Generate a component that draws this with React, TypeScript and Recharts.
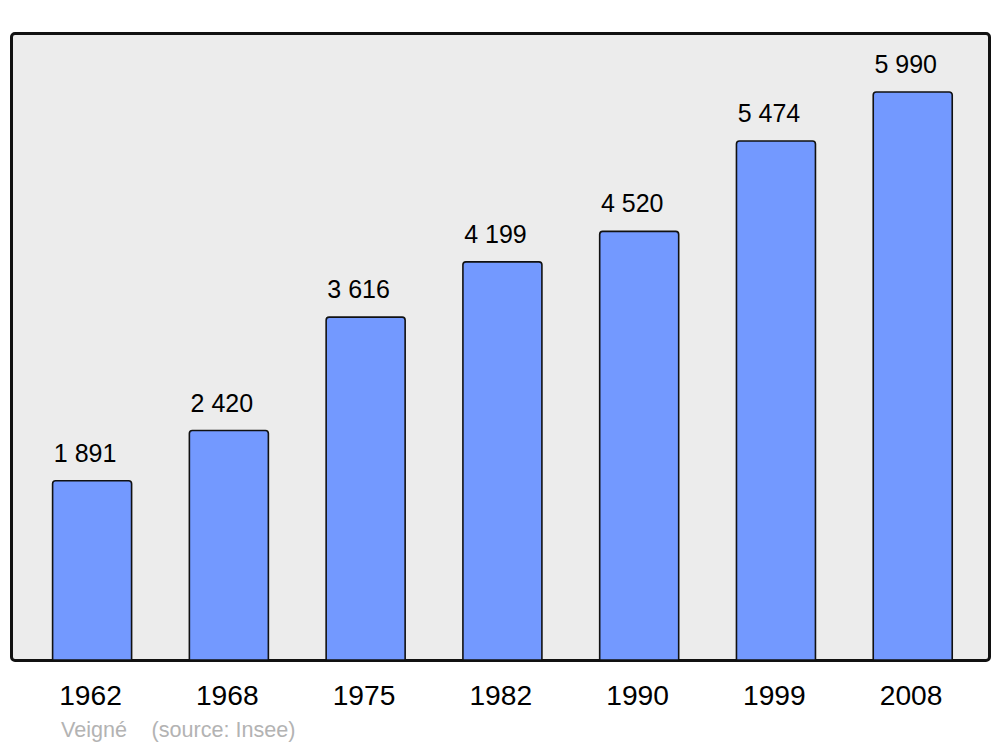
import { Bar, BarChart, LabelList, XAxis, YAxis } from 'recharts'

const years = ['1962', '1968', '1975', '1982', '1990', '1999', '2008']
const population = [1891, 2420, 3616, 4199, 4520, 5474, 5990]
const townName = 'Veigné'
const sourceNote = '(source: Insee)'

const data = years.map((year, i) => ({ year, pop: population[i] }))

const fmt = (v: number) => String(v).replace(/\B(?=(\d{3})+(?!\d))/g, ' ')

const FONT = '"Liberation Sans", Arial, sans-serif'

export default function App() {
  return (
    <div style={{ position: 'absolute', left: 0, top: 0, width: 1000, height: 747, background: '#fff', fontFamily: FONT }}>
      <div
        style={{
          position: 'absolute',
          left: 9.5,
          top: 32.3,
          width: 981,
          height: 629.4,
          boxSizing: 'border-box',
          border: '3px solid #111',
          borderRadius: 5,
          background: '#ececec',
        }}
      />
      <div style={{ position: 'absolute', left: 0, top: 0 }}>
        <BarChart
          width={1000}
          height={747}
          data={data}
          margin={{ top: 34, right: 11, bottom: 57, left: 11 }}
        >
          <XAxis
            dataKey="year"
            axisLine={false}
            tickLine={false}
            tickSize={0}
            tickMargin={25}
            padding={{ left: 12.6, right: 8 }}
            tick={{ fontSize: 28.2, fill: '#000', fontFamily: FONT, dx: -1.5 }}
            interval={0}
          />
          <YAxis hide domain={[0, 6602]} />
          <Bar
            dataKey="pop"
            fill="#7399ff"
            stroke="#111"
            strokeWidth={1.6}
            barSize={79}
            radius={[3, 3, 0, 0]}
            isAnimationActive={false}
          >
            <LabelList
              dataKey="pop"
              position="top"
              offset={19}
              dx={-7}
              formatter={(v: number) => fmt(v)}
              style={{ fontSize: 25, fill: '#000', fontFamily: FONT }}
            />
          </Bar>
        </BarChart>
      </div>
      <svg width={1000} height={747} style={{ position: 'absolute', left: 0, top: 0, pointerEvents: 'none' }}>
        <text x={61} y={737} fontSize={21.6} fill="#b3b3b3" fontFamily={FONT}>
          {townName}
        </text>
        <text x={151.5} y={737} fontSize={21.6} fill="#b3b3b3" fontFamily={FONT}>
          {sourceNote}
        </text>
      </svg>
    </div>
  )
}
